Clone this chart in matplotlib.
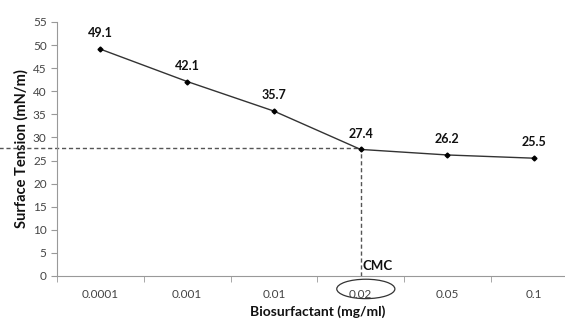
import matplotlib
matplotlib.use("Agg")
import matplotlib.pyplot as plt
from matplotlib.patches import Ellipse

# data
concentrations = ["0.0001", "0.001", "0.01", "0.02", "0.05", "0.1"]
tension = [49.1, 42.1, 35.7, 27.4, 26.2, 25.5]
cmc_index = 3
y_ticks = list(range(0, 60, 5))

plt.rcParams['font.family'] = ['Lato', 'DejaVu Sans']

fig = plt.figure(figsize=(5.65, 3.2), dpi=100)
ax = fig.add_axes([0.101, 0.1375, 0.921, 0.794])

x = list(range(len(concentrations)))
ax.plot(x, tension, color="#333333", lw=1.0, marker="D", markersize=2.5,
        markerfacecolor="black", markeredgecolor="black", zorder=3)

for xi, val in zip(x, tension):
    ax.annotate(f"{val}", (xi, val), xytext=(0, 7), textcoords="offset points",
                ha="center", va="bottom", fontsize=9, fontweight="bold",
                color="#111111")

# CMC guide lines
cmc_val = tension[cmc_index]
ax.hlines(cmc_val + 0.3, -1.2, cmc_index, colors="#555555", linestyles=(0, (3, 2)),
          lw=1.0, clip_on=False, zorder=2)
ax.vlines(cmc_index, 0, cmc_val, colors="#555555", linestyles=(0, (3, 2)),
          lw=1.0, zorder=2)
ax.text(cmc_index + 0.02, 0.8, "CMC", fontsize=9.5, fontweight="bold",
        ha="left", va="bottom", color="#111111")
ax.add_patch(Ellipse((cmc_index + 0.06, -2.8), 0.67, 4.2, fill=False,
                     edgecolor="#333333", lw=0.9, clip_on=False))

ax.set_xlim(-0.5, len(concentrations) - 0.5)
ax.set_ylim(0, 55)
ax.set_yticks(y_ticks)
ax.set_xticks(x)
ax.set_xticklabels(concentrations)
ax.set_xticks([i - 0.5 for i in range(len(concentrations) + 1)], minor=True)
ax.tick_params(axis="x", which="major", length=0, pad=9, labelsize=8.5,
               labelcolor="#444444")
ax.tick_params(axis="x", which="minor", length=4, color="#999999", direction="out")
ax.tick_params(axis="y", length=4, color="#999999", direction="out",
               labelsize=8.5, labelcolor="#444444")

for side in ["top", "right"]:
    ax.spines[side].set_visible(False)
for side in ["left", "bottom"]:
    ax.spines[side].set_color("#999999")

ax.set_ylabel("Surface Tension (mN/m)", fontsize=10.5, fontweight="bold",
              color="#111111", labelpad=3)
ax.set_xlabel("Biosurfactant (mg/ml)", fontsize=10, fontweight="bold",
              color="#111111", labelpad=4)

fig.savefig("out.png", dpi=100)
